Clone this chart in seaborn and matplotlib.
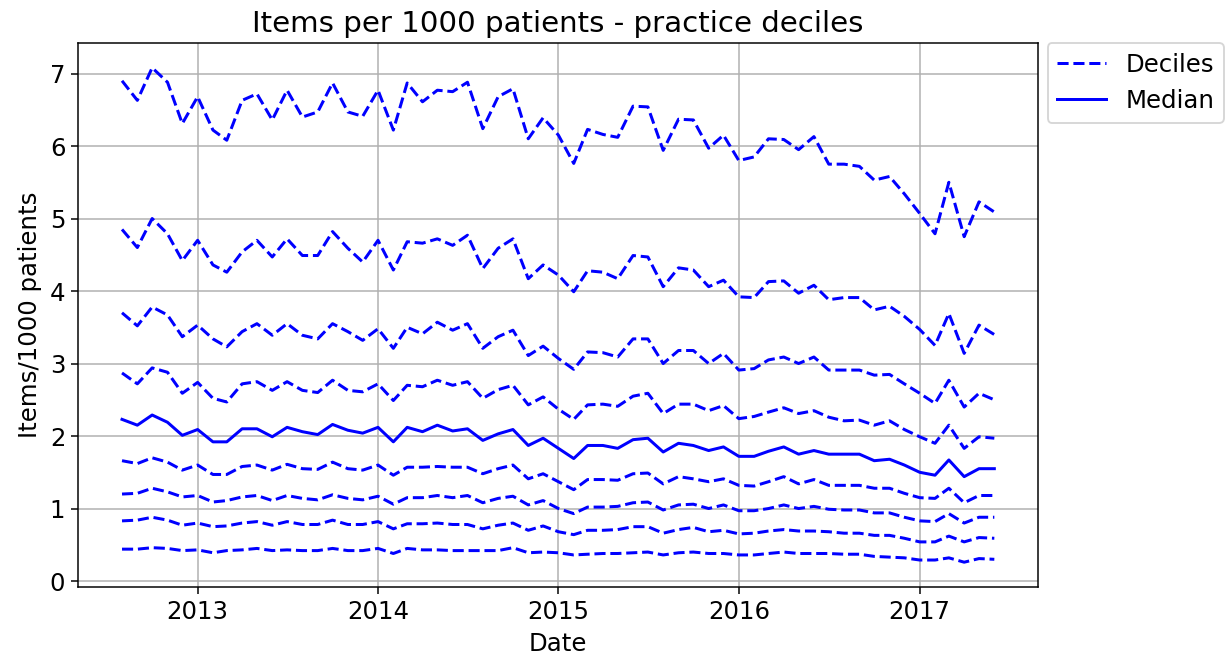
import matplotlib
matplotlib.use("Agg")
import matplotlib.pyplot as plt
import matplotlib.dates as mdates
import pandas as pd
import seaborn as sns

# Monthly prescribing rate per practice, summarised as deciles
months = pd.date_range("2012-08-01", periods=59, freq="MS")

p10 = [0.44, 0.44, 0.46, 0.45, 0.42, 0.43, 0.39, 0.42, 0.43, 0.45,
       0.42, 0.43, 0.42, 0.42, 0.45, 0.42, 0.42, 0.45, 0.38, 0.45,
       0.43, 0.43, 0.42, 0.42, 0.42, 0.42, 0.46, 0.39, 0.40, 0.39,
       0.36, 0.37, 0.38, 0.38, 0.39, 0.40, 0.36, 0.39, 0.40, 0.38,
       0.38, 0.36, 0.36, 0.38, 0.40, 0.38, 0.38, 0.38, 0.37, 0.37,
       0.34, 0.33, 0.32, 0.29, 0.29, 0.32, 0.26, 0.31, 0.30]
p20 = [0.83, 0.84, 0.88, 0.84, 0.77, 0.80, 0.75, 0.76, 0.80, 0.82,
       0.77, 0.82, 0.78, 0.78, 0.84, 0.78, 0.78, 0.82, 0.72, 0.79,
       0.79, 0.80, 0.78, 0.78, 0.72, 0.77, 0.80, 0.70, 0.76, 0.68,
       0.64, 0.70, 0.70, 0.71, 0.75, 0.75, 0.66, 0.71, 0.74, 0.68,
       0.70, 0.65, 0.66, 0.69, 0.71, 0.69, 0.69, 0.68, 0.66, 0.66,
       0.63, 0.63, 0.59, 0.54, 0.54, 0.62, 0.54, 0.60, 0.59]
p30 = [1.20, 1.21, 1.28, 1.23, 1.16, 1.18, 1.09, 1.11, 1.16, 1.18,
       1.11, 1.18, 1.14, 1.12, 1.19, 1.14, 1.12, 1.17, 1.06, 1.15,
       1.15, 1.18, 1.15, 1.18, 1.08, 1.14, 1.17, 1.05, 1.11, 1.00,
       0.93, 1.02, 1.02, 1.03, 1.08, 1.09, 0.98, 1.05, 1.06, 1.00,
       1.05, 0.97, 0.97, 1.00, 1.05, 1.00, 1.03, 0.99, 0.98, 0.98,
       0.94, 0.94, 0.88, 0.83, 0.82, 0.93, 0.80, 0.88, 0.88]
p40 = [1.66, 1.62, 1.70, 1.64, 1.53, 1.60, 1.47, 1.47, 1.58, 1.60,
       1.53, 1.61, 1.55, 1.54, 1.64, 1.55, 1.53, 1.60, 1.46, 1.57,
       1.57, 1.58, 1.57, 1.57, 1.48, 1.55, 1.60, 1.41, 1.48, 1.37,
       1.26, 1.40, 1.40, 1.39, 1.48, 1.49, 1.34, 1.44, 1.41, 1.37,
       1.41, 1.32, 1.31, 1.37, 1.44, 1.34, 1.40, 1.32, 1.32, 1.32,
       1.28, 1.28, 1.21, 1.15, 1.14, 1.28, 1.08, 1.18, 1.18]
median = [2.23, 2.15, 2.29, 2.19, 2.01, 2.09, 1.92, 1.92, 2.10, 2.10,
          1.99, 2.12, 2.06, 2.02, 2.16, 2.08, 2.04, 2.12, 1.92, 2.12,
          2.06, 2.15, 2.07, 2.10, 1.94, 2.03, 2.09, 1.87, 1.97, 1.83,
          1.69, 1.87, 1.87, 1.83, 1.95, 1.97, 1.78, 1.90, 1.87, 1.80,
          1.85, 1.72, 1.72, 1.79, 1.85, 1.75, 1.80, 1.75, 1.75, 1.75,
          1.66, 1.68, 1.60, 1.50, 1.46, 1.67, 1.44, 1.55, 1.55]
p60 = [2.87, 2.72, 2.94, 2.88, 2.59, 2.74, 2.52, 2.47, 2.72, 2.75,
       2.63, 2.75, 2.63, 2.60, 2.77, 2.63, 2.61, 2.72, 2.49, 2.70,
       2.68, 2.77, 2.70, 2.75, 2.52, 2.64, 2.70, 2.43, 2.54, 2.37,
       2.23, 2.43, 2.44, 2.41, 2.55, 2.59, 2.31, 2.44, 2.44, 2.35,
       2.42, 2.24, 2.27, 2.33, 2.39, 2.31, 2.35, 2.26, 2.21, 2.22,
       2.15, 2.21, 2.09, 1.99, 1.90, 2.15, 1.83, 1.99, 1.97]
p70 = [3.70, 3.52, 3.78, 3.67, 3.37, 3.53, 3.34, 3.23, 3.44, 3.55,
       3.39, 3.55, 3.39, 3.34, 3.55, 3.44, 3.32, 3.48, 3.21, 3.50,
       3.41, 3.57, 3.46, 3.55, 3.21, 3.37, 3.46, 3.11, 3.24, 3.07,
       2.92, 3.16, 3.15, 3.09, 3.34, 3.34, 3.00, 3.18, 3.18, 3.00,
       3.14, 2.91, 2.93, 3.05, 3.09, 3.00, 3.09, 2.91, 2.91, 2.91,
       2.84, 2.85, 2.72, 2.59, 2.45, 2.77, 2.40, 2.59, 2.50]
p80 = [4.85, 4.60, 5.00, 4.79, 4.42, 4.70, 4.36, 4.26, 4.54, 4.70,
       4.47, 4.72, 4.49, 4.49, 4.82, 4.59, 4.40, 4.70, 4.29, 4.68,
       4.66, 4.72, 4.63, 4.77, 4.31, 4.59, 4.72, 4.17, 4.36, 4.22,
       3.99, 4.28, 4.26, 4.17, 4.49, 4.47, 4.06, 4.32, 4.29, 4.06,
       4.15, 3.92, 3.91, 4.13, 4.14, 3.97, 4.08, 3.88, 3.91, 3.91,
       3.74, 3.79, 3.65, 3.47, 3.25, 3.69, 3.14, 3.53, 3.40]
p90 = [6.90, 6.63, 7.08, 6.88, 6.31, 6.68, 6.22, 6.08, 6.63, 6.72,
       6.36, 6.77, 6.40, 6.47, 6.87, 6.47, 6.41, 6.77, 6.22, 6.87,
       6.61, 6.77, 6.75, 6.88, 6.24, 6.68, 6.79, 6.10, 6.39, 6.15,
       5.76, 6.23, 6.16, 6.12, 6.55, 6.54, 5.94, 6.37, 6.36, 5.97,
       6.15, 5.80, 5.85, 6.10, 6.09, 5.95, 6.13, 5.75, 5.75, 5.72,
       5.53, 5.58, 5.34, 5.07, 4.79, 5.50, 4.75, 5.23, 5.09]

deciles = [p10, p20, p30, p40, p60, p70, p80, p90]

plt.rcParams["font.size"] = 13

fig = plt.figure(figsize=(1225 / 135, 670 / 135), dpi=135)
ax = fig.add_axes([0.064, 0.124, 0.7833, 0.8118])

for k, vals in enumerate(deciles):
    sns.lineplot(x=months, y=vals, ax=ax, color="blue", linestyle="--",
                 linewidth=1.6, label="Deciles" if k == 0 else None)
sns.lineplot(x=months, y=median, ax=ax, color="blue", linestyle="-",
             linewidth=1.6, label="Median")

ax.xaxis.set_major_locator(mdates.YearLocator())
ax.xaxis.set_major_formatter(mdates.DateFormatter("%Y"))
ax.grid(True)
ax.set_title("Items per 1000 patients - practice deciles")
ax.set_xlabel("Date")
ax.set_ylabel("Items/1000 patients")
ax.legend(loc="upper left", bbox_to_anchor=(1.01, 1), borderaxespad=0)

fig.savefig("out.png", dpi=135)
